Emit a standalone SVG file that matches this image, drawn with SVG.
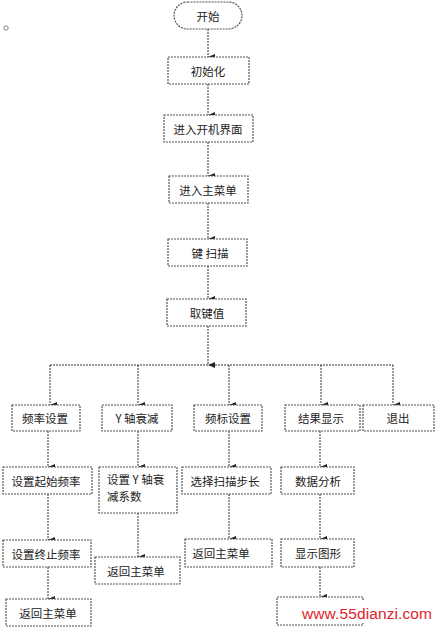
<svg xmlns="http://www.w3.org/2000/svg" width="436" height="627" viewBox="0 0 436 627">
<defs>
<marker id="ah" viewBox="0 0 6 7" refX="3" refY="7" markerWidth="6" markerHeight="7" markerUnits="userSpaceOnUse" orient="auto-start-reverse">
<path d="M0,0 L6,0 L3,7 Z" fill="#222"/>
</marker>
<style>
.b{fill:#fff;stroke:#555;stroke-width:1.2;stroke-dasharray:2 1}
.t{font-family:"Noto Sans CJK SC","Noto Sans",sans-serif;font-size:11.5px;fill:#222;text-anchor:middle;dominant-baseline:central}
.tl{font-family:"Noto Sans CJK SC","Noto Sans",sans-serif;font-size:11.5px;fill:#222}
.c{fill:none;stroke:#333;stroke-width:1;stroke-dasharray:2 1}
.a{marker-end:url(#ah)}
</style>
</defs>
<rect width="436" height="627" fill="#fff"/>
<circle cx="6" cy="28" r="2.2" fill="none" stroke="#666" stroke-width="0.8"/>
<g id="connectors">
<line class="c a" x1="208" y1="29" x2="208" y2="57"/>
<line class="c a" x1="208" y1="84" x2="208" y2="115"/>
<line class="c a" x1="208" y1="142" x2="208" y2="176"/>
<line class="c a" x1="208" y1="203" x2="208" y2="239"/>
<line class="c a" x1="208" y1="266" x2="208" y2="299"/>
<line class="c a" x1="208" y1="326" x2="208" y2="365"/>
<line class="c" x1="50" y1="365" x2="393" y2="365"/>
<line class="c a" x1="50" y1="365" x2="50" y2="405"/>
<line class="c a" x1="138" y1="365" x2="138" y2="405"/>
<line class="c a" x1="229" y1="365" x2="229" y2="405"/>
<line class="c a" x1="321" y1="365" x2="321" y2="405"/>
<line class="c a" x1="393" y1="365" x2="393" y2="405"/>
<line class="c a" x1="48" y1="431" x2="48" y2="467"/>
<line class="c a" x1="48" y1="494" x2="48" y2="540"/>
<line class="c a" x1="48" y1="567" x2="48" y2="599"/>
<line class="c a" x1="138" y1="431" x2="138" y2="467"/>
<line class="c a" x1="138" y1="513" x2="138" y2="557"/>
<line class="c a" x1="229" y1="431" x2="229" y2="467"/>
<line class="c a" x1="229" y1="494" x2="229" y2="539"/>
<line class="c a" x1="320" y1="431" x2="320" y2="467"/>
<line class="c a" x1="320" y1="494" x2="320" y2="539"/>
<line class="c a" x1="320" y1="567" x2="320" y2="597"/>
</g>
<g id="start"><rect class="b" x="174" y="2" width="68" height="27" rx="13.5"/><text class="t" x="208" y="15.5">开始</text></g>
<g id="init"><rect class="b" x="168" y="57" width="81" height="27"/><text class="t" x="208" y="70.5">初始化</text></g>
<g id="boot"><rect class="b" x="164" y="115" width="89" height="27"/><text class="t" x="208" y="128.5">进入开机界面</text></g>
<g id="menu"><rect class="b" x="169" y="176" width="79" height="27"/><text class="t" x="208" y="189.5">进入主菜单</text></g>
<g id="scan"><rect class="b" x="168" y="239" width="79" height="27"/><text class="t" x="210" y="252.5">键 扫描</text></g>
<g id="key"><rect class="b" x="167" y="299" width="79" height="27"/><text class="t" x="207" y="312.5">取键值</text></g>
<g id="freq"><rect class="b" x="12" y="405" width="68" height="26"/><text class="t" x="45" y="418">频率设置</text></g>
<g id="yatt"><rect class="b" x="102" y="405" width="70" height="26"/><text class="t" x="137" y="418">Y 轴衰减</text></g>
<g id="mark"><rect class="b" x="194" y="405" width="68" height="26"/><text class="t" x="228" y="418">频标设置</text></g>
<g id="result"><rect class="b" x="285" y="405" width="75" height="26"/><text class="t" x="321" y="418">结果显示</text></g>
<g id="exit"><rect class="b" x="363" y="405" width="71" height="26"/><text class="t" x="398" y="418">退出</text></g>
<g id="fstart"><rect class="b" x="3" y="467" width="89" height="27"/><text class="t" x="46" y="480.5">设置起始频率</text></g>
<g id="ycoef"><rect class="b" x="99" y="467" width="78" height="46"/><text class="tl" x="107" y="484">设置 Y 轴衰</text><text class="tl" x="107" y="501">减系数</text></g>
<g id="step"><rect class="b" x="182" y="467" width="89" height="27"/><text class="t" x="225" y="480.5">选择扫描步长</text></g>
<g id="analysis"><rect class="b" x="281" y="467" width="73" height="27"/><text class="t" x="318" y="480.5">数据分析</text></g>
<g id="fstop"><rect class="b" x="3" y="540" width="88" height="27"/><text class="t" x="46" y="553.5">设置终止频率</text></g>
<g id="ret2"><rect class="b" x="95" y="557" width="85" height="27"/><text class="t" x="136" y="570.5">返回主菜单</text></g>
<g id="ret3"><rect class="b" x="185" y="539" width="87" height="28"/><text class="t" x="221" y="553">返回主菜单</text></g>
<g id="graph"><rect class="b" x="281" y="539" width="73" height="28"/><text class="t" x="318" y="553">显示图形</text></g>
<g id="ret1"><rect class="b" x="6" y="599" width="85" height="27"/><text class="t" x="48" y="612.5">返回主菜单</text></g>
<g id="ret4"><rect class="b" x="277" y="597" width="86" height="28"/></g>
<rect x="300" y="601" width="136" height="22" fill="#fff"/>
<text x="302" y="619" font-family="'Liberation Sans',Arial,sans-serif" font-size="15.5" fill="#e0242a" textLength="130">www.55dianzi.com</text>
</svg>
